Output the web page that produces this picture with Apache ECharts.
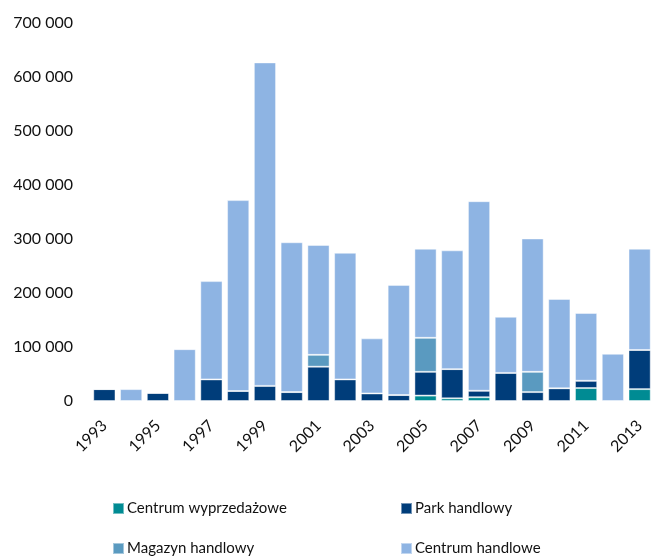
<!DOCTYPE html>
<html>
<head>
<meta charset="utf-8">
<script src="https://cdn.jsdelivr.net/npm/echarts@6/dist/echarts.min.js"></script>
<style>
html,body{margin:0;padding:0;background:#fff;}
#c{width:653px;height:556px;}
</style>
</head>
<body>
<div id="c"></div>
<script>
var years = ['1993','1994','1995','1996','1997','1998','1999','2000','2001','2002','2003','2004','2005','2006','2007','2008','2009','2010','2011','2012','2013'];
var centrumWyprzedazowe = [0,0,0,0,0,0,0,0,0,0,0,0,10000,5000,7000,0,0,0,24000,0,22000];
var parkHandlowy = [22000,0,15000,0,40000,18500,28000,16500,63500,40000,14000,11000,44000,54000,12000,52000,16500,23500,13500,0,72500];
var magazynHandlowy = [0,0,0,0,0,0,0,0,22000,0,0,0,63000,0,0,0,37500,0,0,0,0];
var centrumHandlowe = [0,22000,0,96000,182000,353500,599000,277500,203500,234500,102000,204000,165000,220000,351000,104000,247000,165500,125500,87500,187500];
var yTicks = [0,100000,200000,300000,400000,500000,600000,700000];
var seriesNames = ['Centrum wyprzedażowe','Park handlowy','Magazyn handlowy','Centrum handlowe'];
var colors = ['#008B93','#003D7A','#5A9AC0','#8EB4E3'];

var chart = echarts.init(document.getElementById('c'));
var font = 'Lato';
function mkSeries(i, data){
  return {
    name: seriesNames[i], type:'bar', stack:'s', data:data,
    barCategoryGap:'17%',
    itemStyle:{color:colors[i], borderColor:'rgba(255,255,255,0.45)', borderWidth:1},
    emphasis:{disabled:true}
  };
}
function mkLegend(i, left, top){
  return {
    data:[{name:seriesNames[i], icon:'rect'}],
    left:left, top:top, padding:0, itemWidth:11, itemHeight:11,
    selectedMode:false,
    textStyle:{fontFamily:font, fontSize:15, color:'#111', padding:[0,0,0,-2]}
  };
}
chart.setOption({
  animation:false,
  color:colors,
  grid:{left:91, right:-9, top:23, bottom:155, containLabel:false},
  legend:[mkLegend(0,112,501), mkLegend(1,400,501), mkLegend(2,112,541), mkLegend(3,400,541)],
  xAxis:{
    type:'category', data:years,
    axisLine:{show:false}, axisTick:{show:false},
    axisLabel:{interval:1, rotate:45, margin:22, fontFamily:font, fontSize:16, color:'#111'}
  },
  yAxis:{
    type:'value', min:0, max:700000, interval:100000,
    axisLine:{show:false}, axisTick:{show:false}, splitLine:{show:false},
    axisLabel:{margin:18, fontFamily:font, fontSize:16, color:'#111',
      formatter:function(v){ return yTicks.indexOf(v)>=0 ? String(v).replace(/\B(?=(\d{3})+(?!\d))/g,' ') : ''; }}
  },
  series:[mkSeries(0,centrumWyprzedazowe), mkSeries(1,parkHandlowy), mkSeries(2,magazynHandlowy), mkSeries(3,centrumHandlowe)]
});
</script>
</body>
</html>
